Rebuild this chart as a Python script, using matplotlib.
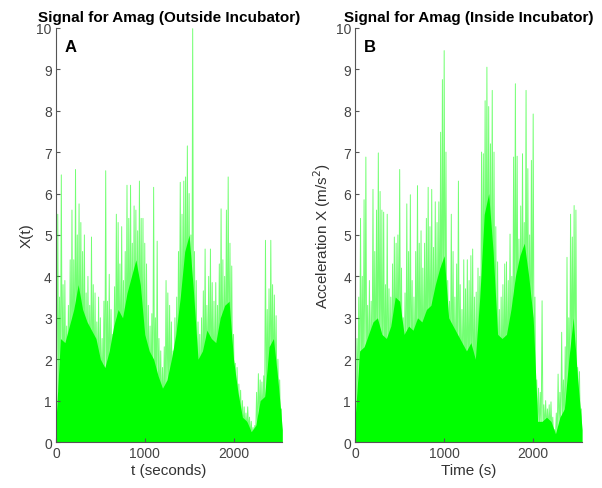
import numpy as np
import matplotlib
matplotlib.use("Agg")
import matplotlib.pyplot as plt

plt.rcParams['font.family'] = ['Liberation Sans', 'DejaVu Sans']

# peak values of the signal, one every 20 s (0 .. 2540 s)
peak_step = 20
peak_out = [1.0, 5.5, 3.5, 6.45, 3.8,
            3.9, 2.8, 3.3, 4.4, 5.6,
            4.4, 6.58, 5.0, 5.75, 5.3,
            4.6, 5.0, 3.6, 4.0, 3.3,
            4.95, 3.8, 3.6, 2.9, 3.5,
            3.0, 2.5, 3.4, 6.55, 3.4,
            4.05, 3.2, 2.6, 3.75, 5.5,
            5.3, 4.3, 5.2, 3.9, 4.6,
            6.2, 5.4, 6.2, 4.8, 5.7,
            5.6, 5.1, 6.3, 5.4, 5.4,
            4.8, 4.3, 3.3, 2.8, 3.1,
            6.15, 3.0, 4.85, 2.5, 2.2,
            1.8, 2.3, 3.9, 3.6, 3.3,
            2.9, 2.2, 3.0, 3.5, 4.6,
            6.27, 5.5, 6.3, 6.4, 7.15,
            6.0, 5.0, 9.98, 4.6, 3.9,
            2.9, 2.6, 3.0, 3.65, 4.66,
            3.3, 4.0, 4.66, 3.85, 3.4,
            3.85, 3.3, 4.3, 5.63, 4.4,
            4.0, 5.6, 6.4, 4.8, 4.25,
            2.6, 1.9, 1.8, 1.4, 1.25,
            1.0, 0.85, 0.7, 0.85, 0.6,
            0.5, 0.35, 0.4, 1.2, 1.65,
            1.5, 1.45, 1.6, 4.87, 3.2,
            3.7, 4.87, 3.8, 3.55, 3.05,
            2.0, 1.5, 0.8]
peak_in = [1.5, 2.5, 3.5, 5.4, 4.0,
           5.85, 6.88, 3.3, 3.9, 3.4,
           6.1, 4.6, 5.6, 6.98, 6.05,
           5.6, 5.55, 3.8, 5.5, 3.7,
           3.5, 4.3, 4.95, 4.8, 5.0,
           6.58, 4.2, 3.0, 3.6, 5.75,
           4.6, 5.97, 3.9, 3.5, 4.6,
           6.19, 4.8, 5.1, 4.2, 4.8,
           5.4, 6.15, 5.2, 6.1, 4.7,
           5.8, 5.3, 5.8, 7.48, 8.75,
           9.45, 7.0, 3.9, 3.4, 5.5,
           4.6, 3.5, 4.3, 6.3, 3.8,
           3.2, 4.4, 3.7, 4.4, 3.9,
           4.5, 4.66, 3.5, 3.62, 4.2,
           4.0, 7.0, 6.96, 8.24, 9.05,
           8.1, 7.2, 8.49, 7.0, 5.2,
           4.35, 3.2, 3.5, 3.8, 4.3,
           4.35, 3.9, 5.02, 4.0, 6.88,
           8.65, 6.9, 4.9, 5.7, 6.96,
           5.3, 8.49, 6.6, 5.0, 6.8,
           7.92, 3.5, 1.5, 1.3, 1.2,
           3.41, 0.9, 1.0, 0.8, 0.9,
           0.97, 0.6, 0.3, 0.7, 1.64,
           1.2, 2.65, 1.5, 2.3, 4.46,
           3.0, 5.5, 4.95, 5.71, 5.6,
           1.8, 1.7, 0.8]

# level of the dense (solid) part of the signal, one every 50 s
core_step = 50
core_out = [0.5, 2.5, 2.4, 2.8, 3.2, 3.8, 3.2, 2.9, 2.7, 2.5,
            2.0, 1.8, 2.2, 2.8, 3.2, 3.0, 3.6, 4.0, 4.4, 3.8,
            2.6, 2.2, 2.0, 1.6, 1.3, 1.5, 2.0, 2.6, 3.5, 4.6,
            5.0, 3.6, 2.0, 2.2, 2.7, 2.5, 2.4, 3.0, 3.3, 3.4,
            2.0, 1.2, 0.6, 0.5, 0.25, 0.4, 1.0, 1.1, 2.3, 2.5,
            1.5, 0.3]
core_in = [0.6, 2.2, 2.3, 2.6, 2.9, 3.0, 2.6, 2.5, 2.8, 3.5,
           3.4, 2.6, 2.8, 2.7, 3.0, 2.9, 3.2, 3.3, 3.8, 4.2,
           4.5, 3.0, 2.8, 2.6, 2.4, 2.2, 2.4, 2.0, 3.5, 5.5,
           6.0, 4.6, 2.6, 2.5, 2.6, 3.2, 4.0, 4.5, 4.8, 4.0,
           3.0, 0.5, 0.5, 0.6, 0.5, 0.2, 0.6, 0.8, 2.0, 3.0,
           1.5, 0.3]

titles = ["Signal for Amag (Outside Incubator)", "Signal for Amag (Inside Incubator)"]
xlabels = ["t (seconds)", "Time (s)"]
ylabels = ["X(t)", "Acceleration X (m/s$^2$)"]
letters = ["A", "B"]

green = (0.0, 1.0, 0.0)
gray = "#555555"

fig = plt.figure(figsize=(6.02, 4.89), dpi=100)
ax1 = fig.add_axes([0.093, 0.094, 0.376, 0.847])
ax2 = fig.add_axes([0.590, 0.094, 0.377, 0.847])

for ax, peaks, core, ttl, xl, yl, let in zip(
        [ax1, ax2], [peak_out, peak_in], [core_out, core_in],
        titles, xlabels, ylabels, letters):
    peaks = np.array(peaks)
    core = np.array(core)
    t_peak = np.arange(len(peaks)) * peak_step
    t_core = np.arange(len(core)) * core_step
    # zigzag: each peak drops back toward the dense level nearest in time
    idx = np.clip(np.round((t_peak + peak_step / 2) / core_step).astype(int), 0, len(core) - 1)
    zx = np.column_stack([t_peak, t_peak + peak_step / 2]).ravel()
    zy = np.column_stack([peaks, core[idx] * 0.5]).ravel()
    ax.plot(zx, zy, color=green, linewidth=0.7, alpha=0.55)
    ax.fill_between(t_core, 0, core, color=green, linewidth=0)
    ax.set_xlim(0, 2550)
    ax.set_ylim(0, 10)
    ax.set_yticks(range(0, 11))
    ax.set_xticks([0, 1000, 2000])
    ax.set_title(ttl, fontsize=11, fontweight='bold', pad=5)
    ax.set_xlabel(xl, fontsize=11, color="#333333", labelpad=2)
    ax.set_ylabel(yl, fontsize=11, color="#333333", labelpad=2)
    ax.text(0.04, 0.972, let, transform=ax.transAxes, fontsize=12,
            fontweight='bold', va='top', ha='left')
    for s in ['top', 'right']:
        ax.spines[s].set_visible(False)
    for s in ['left', 'bottom']:
        ax.spines[s].set_color(gray)
    ax.tick_params(direction='in', length=3, colors=gray, labelsize=10,
                   labelcolor="#444444", pad=3)

fig.savefig("out.png", dpi=100)
